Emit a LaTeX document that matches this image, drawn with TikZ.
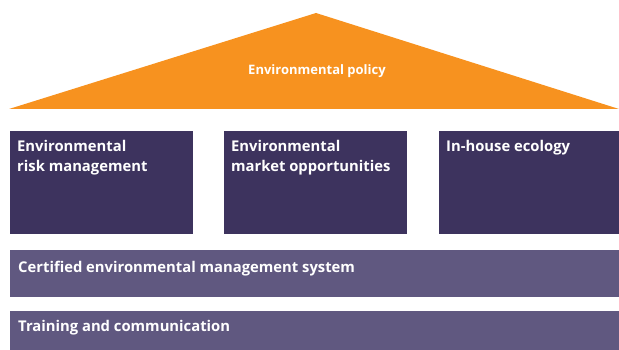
\documentclass[tikz,border=0pt]{standalone}
\usepackage{fontspec}
\setmainfont{Open Sans}
\usepackage{xcolor}
\usepackage{tikz}
\usetikzlibrary{positioning}
\definecolor{roof}{HTML}{F7921F}
\definecolor{pillar}{HTML}{3D335E}
\definecolor{base}{HTML}{605880}
\tikzstyle{pillarbox}=[fill=pillar,anchor=north west,minimum width=183pt,minimum height=103pt,inner sep=0pt]
\tikzstyle{basebar}=[fill=base,anchor=north west,minimum width=609pt,inner sep=0pt]
\tikzstyle{boxtext}=[anchor=north west,align=left,text=white,font=\bfseries\fontsize{14.8}{20}\selectfont,inner sep=0pt]
\tikzstyle{rooftext}=[text=white,font=\bfseries\fontsize{13}{16}\selectfont]

\begin{document}
\begin{tikzpicture}[x=1pt,y=-1pt]
	\useasboundingbox (0,0) rectangle (619,350);
	% roof
	\coordinate (roofl) at (9,109);
	\coordinate (roofr) at (619,109);
	\coordinate (apex) at (316,13);
	\fill[roof] (roofl) -- (apex) -- (roofr) -- cycle;
	\node[rooftext] (policy) at (317,71) {Environmental policy};
	% pillars
	\node[pillarbox] (risk) at (10,131) {};
	\node[pillarbox] (market) at (224,131) {};
	\node[pillarbox] (ecology) at (439,131) {};
	\node[boxtext] at ([shift={(7pt,-9pt)}]risk.north west) {Environmental\\risk management};
	\node[boxtext] at ([shift={(7pt,-9pt)}]market.north west) {Environmental\\market opportunities};
	\node[boxtext] at ([shift={(7pt,-9pt)}]ecology.north west) {In-house ecology};
	% foundation
	\node[basebar,minimum height=47pt] (ems) at (10,250) {};
	\node[basebar,minimum height=39pt] (training) at (10,311) {};
	\node[boxtext] at ([shift={(8pt,-11pt)}]ems.north west) {Certified environmental management system};
	\node[boxtext] at ([shift={(8pt,-9pt)}]training.north west) {Training and communication};
\end{tikzpicture}
\end{document}
